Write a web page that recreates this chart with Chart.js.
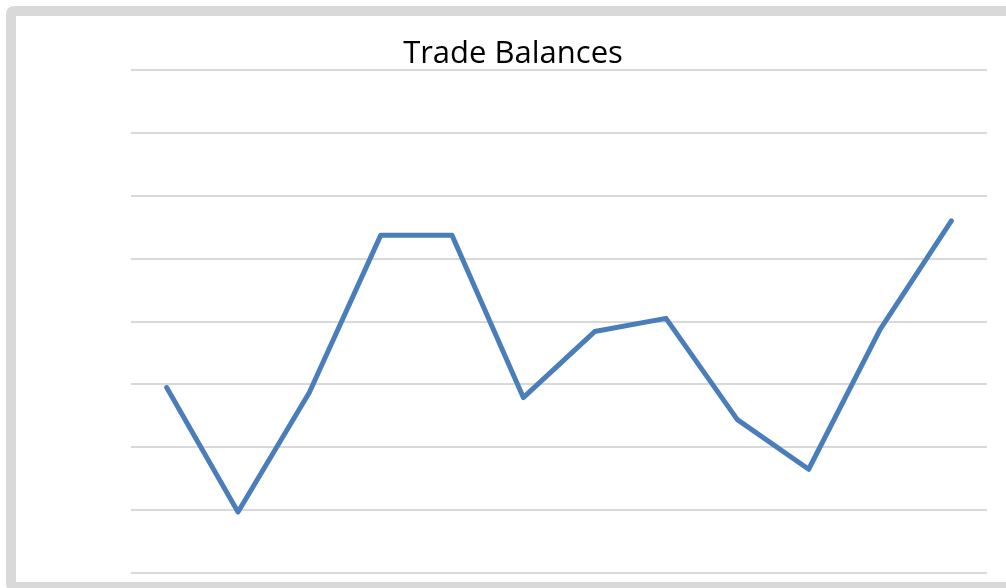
<!DOCTYPE html>
<html>
<head>
<meta charset="utf-8">
<script src="https://cdn.jsdelivr.net/npm/chart.js@4/dist/chart.umd.min.js"></script>
<style>
  html, body { margin: 0; padding: 0; background: #fff; overflow: hidden; }
  .frame {
    position: absolute; left: 6px; top: 6px; width: 1010px; height: 586px;
    box-sizing: border-box; border: 10px solid #d9d9d9; border-radius: 8px;
  }
  .wrap { position: absolute; left: 0; top: 0; width: 1006px; height: 588px; }
</style>
</head>
<body>
<div class="frame"></div>
<div class="wrap"><canvas id="chart"></canvas></div>
<script>
// Trade balances (no axis labels shown, values in grid steps)
const periods = ["1","2","3","4","5","6","7","8","9","10","11","12"];
const balances = [2.95, 0.97, 2.87, 5.37, 5.37, 2.79, 3.84, 4.05, 2.44, 1.65, 3.87, 5.60];
const yMin = 0, yMax = 8, yStep = 1;

const ctx = document.getElementById("chart").getContext("2d");
new Chart(ctx, {
  type: "line",
  data: {
    labels: periods,
    datasets: [{
      label: "Trade Balances",
      data: balances,
      borderColor: "#4a7ebb",
      borderWidth: 5,
      borderCapStyle: "round",
      borderJoinStyle: "round",
      pointRadius: 0,
      tension: 0,
      fill: false,
    }],
  },
  options: {
    responsive: true,
    maintainAspectRatio: false,
    animation: false,
    layout: { padding: { left: 39, right: 19, top: 0, bottom: 15 } },
    plugins: {
      legend: { display: false },
      tooltip: { enabled: false },
      title: {
        display: true,
        text: "Trade Balances",
        color: "#000",
        font: { family: "'Open Sans', sans-serif", size: 31, weight: "normal", lineHeight: 1 },
        padding: { top: 39, bottom: 0 },
      },
    },
    scales: {
      x: {
        display: false,
        offset: true,
      },
      y: {
        min: yMin, max: yMax,
        ticks: { display: false, stepSize: yStep },
        grid: { color: "#d9d9d9", lineWidth: 2, drawTicks: false },
        border: { display: false },
        afterFit: (scale) => { scale.width = 92; },
      },
    },
  },
});
</script>
</body>
</html>
